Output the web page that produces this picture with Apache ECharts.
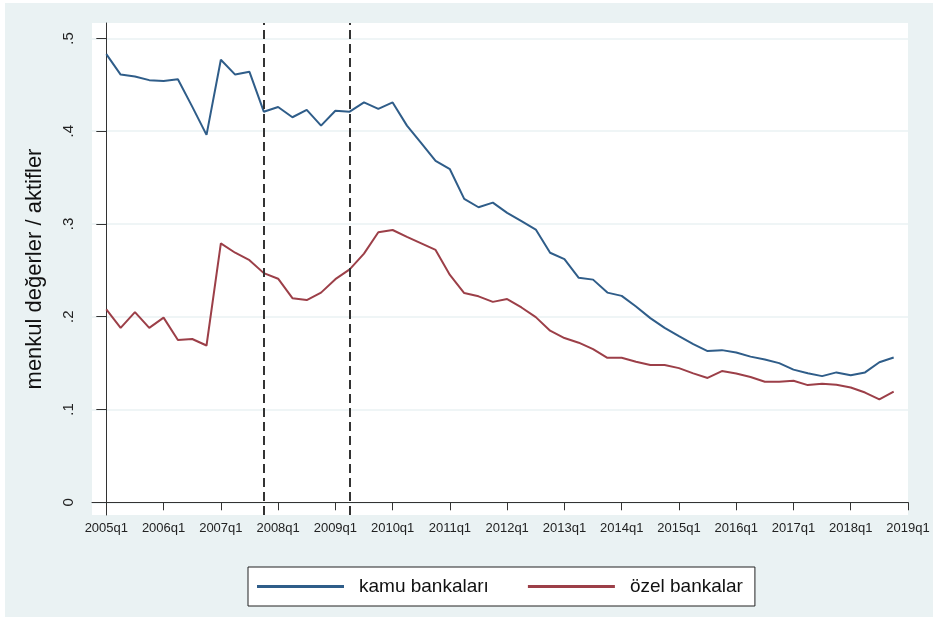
<!DOCTYPE html>
<html>
<head>
<meta charset="utf-8">
<script src="https://cdn.jsdelivr.net/npm/echarts@6/dist/echarts.min.js"></script>
<style>
  html, body { margin: 0; padding: 0; background: #fff; }
  #wrap { position: relative; width: 938px; height: 620px; }
  #chart { width: 938px; height: 620px; }
  #edge {
    position: absolute; left: 0; top: 0; right: 0; bottom: 0;
    border-style: solid; border-color: #fff;
    border-width: 3px 5px 3px 5px; pointer-events: none;
  }
</style>
</head>
<body>
<div id="wrap"><div id="chart"></div><div id="edge"></div></div>
<script>
// Quarters 2005q1 … 2018q4
const quarters = [];
for (let y = 2005; y <= 2018; y++) {
  for (let q = 1; q <= 4; q++) quarters.push(y + 'q' + q);
}

// menkul değerler / aktifler — kamu bankaları
const kamu = [
  0.483, 0.461, 0.459, 0.455, 0.454, 0.456, 0.4265, 0.396,
  0.477, 0.461, 0.464, 0.421, 0.426, 0.415, 0.423, 0.406,
  0.422, 0.421, 0.431, 0.424, 0.431, 0.406, 0.387, 0.368,
  0.359, 0.327, 0.318, 0.323, 0.312, 0.303, 0.294, 0.269,
  0.262, 0.242, 0.240, 0.226, 0.2225, 0.211, 0.1985, 0.188,
  0.179, 0.1705, 0.163, 0.164, 0.1615, 0.157, 0.154, 0.150,
  0.143, 0.139, 0.136, 0.140, 0.137, 0.140, 0.151, 0.156
];

// menkul değerler / aktifler — özel bankalar
const ozel = [
  0.208, 0.188, 0.205, 0.188, 0.199, 0.175, 0.176, 0.169,
  0.279, 0.269, 0.261, 0.247, 0.241, 0.220, 0.218, 0.226,
  0.2405, 0.251, 0.268, 0.291, 0.2935, 0.286, 0.279, 0.272,
  0.245, 0.2255, 0.222, 0.216, 0.219, 0.210, 0.1996, 0.185,
  0.177, 0.172, 0.165, 0.1557, 0.1557, 0.1514, 0.148, 0.148,
  0.1446, 0.139, 0.134, 0.1414, 0.1388, 0.135, 0.130, 0.130,
  0.131, 0.1263, 0.1277, 0.1266, 0.1237, 0.1183, 0.111, 0.1194
];

// Axis ticks
const xTickLabels = ['2005q1', '2006q1', '2007q1', '2008q1', '2009q1', '2010q1', '2011q1',
                     '2012q1', '2013q1', '2014q1', '2015q1', '2016q1', '2017q1', '2018q1', '2019q1'];
const yTicks = [0, 0.1, 0.2, 0.3, 0.4, 0.5];
const yTickLabels = ['0', '.1', '.2', '.3', '.4', '.5'];

// Vertical reference lines
const markedQuarters = ['2007q4', '2009q2'];

const seriesNames = ['kamu bankaları', 'özel bankalar'];
const seriesColors = ['#2f5d89', '#9c3f48'];

const xTickValues = xTickLabels.map((_, k) => 4 * k);
const FONT = '"Liberation Sans", Arial, sans-serif';

const chart = echarts.init(document.getElementById('chart'), null, { renderer: 'canvas' });
chart.setOption({
  animation: false,
  backgroundColor: '#eaf2f3',
  textStyle: { fontFamily: FONT },
  grid: {
    left: 92, right: 30, top: 23, bottom: 105,
    show: true, backgroundColor: '#ffffff', borderWidth: 0
  },
  legend: {
    data: seriesNames,
    left: 248, top: 567,
    orient: 'horizontal',
    icon: 'rect',
    itemWidth: 87, itemHeight: 3,
    itemGap: 39,
    padding: [10, 12, 10, 9],
    borderColor: '#222', borderWidth: 1, borderRadius: 0,
    backgroundColor: '#ffffff',
    selectedMode: false,
    textStyle: { fontSize: 19, color: '#111', fontFamily: FONT, padding: [0, 0, 0, 10] }
  },
  xAxis: {
    type: 'value',
    min: -1, max: 56,
    axisLine: { show: true, lineStyle: { color: '#333', width: 1 } },
    axisTick: { show: true, customValues: xTickValues, length: 8, lineStyle: { color: '#333' } },
    axisLabel: {
      customValues: xTickValues,
      formatter: v => xTickLabels[Math.round(v / 4)],
      fontSize: 13, color: '#222', margin: 7, fontFamily: FONT
    },
    splitLine: { show: false }
  },
  yAxis: {
    type: 'value',
    min: -0.0137, max: 0.5166,
    name: 'menkul değerler / aktifler',
    nameLocation: 'middle',
    nameGap: 46,
    nameTextStyle: { fontSize: 22, color: '#111', fontFamily: FONT },
    axisLine: { show: true, lineStyle: { color: '#333', width: 1 } },
    axisTick: { show: true, customValues: yTicks, length: 10, lineStyle: { color: '#333' } },
    axisLabel: {
      customValues: yTicks,
      rotate: 90,
      formatter: v => yTickLabels[yTicks.findIndex(t => Math.abs(t - v) < 1e-9)],
      fontSize: 15, color: '#222', margin: 16, fontFamily: FONT
    },
    splitLine: { show: true, lineStyle: { color: '#eaf2f3', width: 1.5 } }
  },
  series: [
    {
      name: seriesNames[0],
      type: 'line',
      data: kamu.map((v, i) => [i, v]),
      showSymbol: false,
      color: seriesColors[0],
      lineStyle: { width: 2, color: seriesColors[0] },
      emphasis: { disabled: true },
      markLine: {
        silent: true,
        symbol: ['none', 'none'],
        label: { show: false },
        lineStyle: { type: [9, 5], color: '#333', width: 2 },
        data: markedQuarters.map(q => ({ xAxis: quarters.indexOf(q) }))
      }
    },
    {
      name: seriesNames[1],
      type: 'line',
      data: ozel.map((v, i) => [i, v]),
      showSymbol: false,
      color: seriesColors[1],
      lineStyle: { width: 2, color: seriesColors[1] },
      emphasis: { disabled: true }
    }
  ]
});
</script>
</body>
</html>
